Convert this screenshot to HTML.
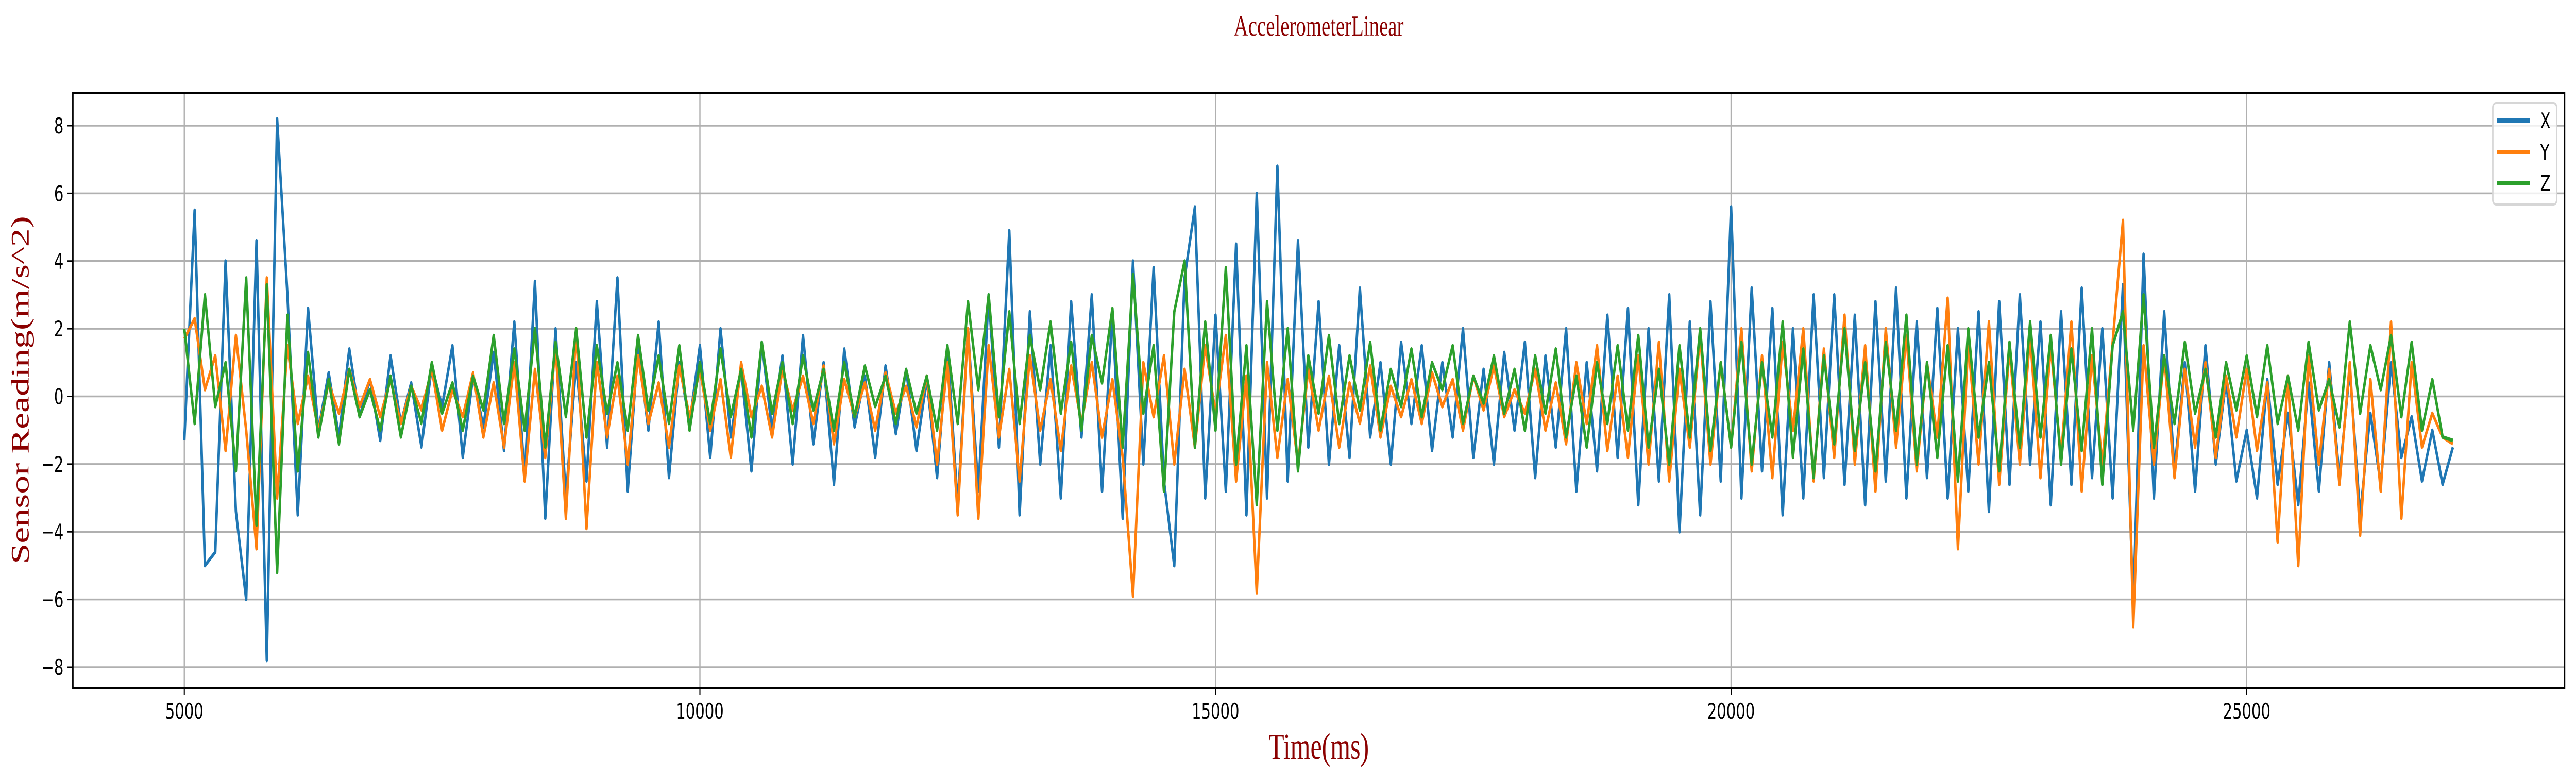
<!DOCTYPE html>
<html><head><meta charset="utf-8"><style>
html,body{margin:0;padding:0;background:#fff;width:100%;height:100%;overflow:hidden;}
svg{display:block;width:100vw;height:100vh;}
</style></head><body>
<svg id="chart" viewBox="0 0 7212 1516" preserveAspectRatio="none" xmlns="http://www.w3.org/2000/svg">
<text x="3692" y="69" text-anchor="middle" font-family="Liberation Serif, serif" font-size="56" fill="#8b0000">AccelerometerLinear</text>
<g id="grid"></g>
<g id="series"></g>
<rect x="204" y="180" width="6976" height="1155" fill="none" stroke="#000" stroke-width="4"/>
<g id="ticks"></g>
<text x="3692" y="1473" text-anchor="middle" font-family="Liberation Serif, serif" font-size="72" fill="#8b0000">Time(ms)</text>
<text transform="translate(80,757) rotate(-90)" text-anchor="middle" font-family="Liberation Serif, serif" font-size="72" fill="#8b0000">Sensor Reading(m/s^2)</text>
<g>
<rect x="6979" y="200" width="179" height="197" rx="9" fill="#fff" fill-opacity="0.8" stroke="#d6d6d6" stroke-width="4"/>
<line x1="6991" y1="234" x2="7083" y2="234" stroke="#1f77b4" stroke-width="8"/>
<text x="7112" y="249" font-family="DejaVu Sans, Liberation Sans, sans-serif" font-size="42">X</text>
<line x1="6991" y1="295" x2="7083" y2="295" stroke="#ff7f0e" stroke-width="8"/>
<text x="7112" y="310" font-family="DejaVu Sans, Liberation Sans, sans-serif" font-size="42">Y</text>
<line x1="6991" y1="355" x2="7083" y2="355" stroke="#2ca02c" stroke-width="8"/>
<text x="7112" y="370" font-family="DejaVu Sans, Liberation Sans, sans-serif" font-size="42">Z</text>
</g>
</svg>
<script>
const xTicks = [5000, 10000, 15000, 20000, 25000];
const yTicks = [-8, -6, -4, -2, 0, 2, 4, 6, 8];
const tStart = 5000;
const tStep = 100;
const seriesX = [-1.3,5.5,-5,-4.6,4,-3.4,-6,4.6,-7.8,8.2,
3.0,-3.5,2.6,-1.0,0.7,-1.2,1.4,-0.6,0.5,-1.3,
1.2,-0.8,0.4,-1.5,0.9,-0.3,1.5,-1.8,0.6,-0.9,
1.3,-1.6,2.2,-2.4,3.4,-3.6,2.0,-3.0,1.0,-2.5,
2.8,-1.5,3.5,-2.8,1.5,-1.0,2.2,-2.4,1.0,-0.8,
1.5,-1.8,2.0,-1.2,0.8,-2.2,1.6,-1.0,1.2,-2.0,
1.8,-1.4,1.0,-2.6,1.4,-0.9,0.6,-1.8,0.9,-1.1,
0.8,-1.6,0.5,-2.4,1.5,-3.2,2.0,-2.8,3.0,-1.5,
4.9,-3.5,2.5,-2.0,1.5,-3.0,2.8,-1.2,3.0,-2.8,
2.5,-3.6,4.0,-2.0,3.8,-2.5,-5.0,3.5,5.6,-3.0,
2.4,-2.8,4.5,-3.5,6.0,-3.0,6.8,-2.5,4.6,-1.5,
2.8,-2.0,1.5,-1.8,3.2,-1.2,1.0,-2.0,1.6,-0.8,
1.5,-1.6,1.0,-1.2,2.0,-1.8,0.8,-2.0,1.3,-1.0,
1.6,-2.4,1.2,-1.5,2.0,-2.8,1.0,-2.2,2.4,-1.8,
2.6,-3.2,2.0,-2.5,3.0,-4.0,2.2,-3.5,2.8,-2.5,
5.6,-3.0,3.2,-2.2,2.6,-3.5,2.0,-3.0,3.0,-2.4,
3.0,-2.6,2.4,-3.2,2.8,-2.5,3.2,-3.0,2.2,-2.4,
2.6,-3.0,2.0,-2.8,2.5,-3.4,2.8,-2.6,3.0,-2.0,
2.2,-3.2,2.5,-2.6,3.2,-2.4,2.0,-3.0,3.3,-6.3,
4.2,-3.0,2.5,-2.2,1.0,-2.8,1.5,-2.0,0.5,-2.5,
-1.0,-3.0,0.5,-2.6,-0.5,-3.2,0.4,-2.8,1.0,-2.4,
0.8,-3.5,-0.5,-2.6,1.0,-1.8,-0.6,-2.5,-1.0,-2.6,
-1.5];
const seriesY = [1.7,2.3,0.2,1.2,-1.6,1.8,-1.0,-4.5,3.5,-3.0,
1.5,-0.8,0.6,-1.0,0.4,-0.5,0.8,-0.3,0.5,-0.6,
0.5,-0.8,0.3,-0.4,0.8,-1.0,0.2,-0.6,0.7,-1.2,
0.4,-1.5,1.0,-2.5,0.8,-1.8,1.5,-3.6,2.0,-3.9,
1.0,-1.2,0.6,-2.0,1.2,-0.8,0.4,-1.5,0.9,-0.6,
0.8,-1.0,0.5,-1.8,1.0,-0.6,0.3,-1.2,0.8,-0.4,
0.6,-0.8,0.9,-1.4,0.5,-0.6,0.4,-1.0,0.7,-0.5,
0.3,-0.9,0.6,-2.0,1.0,-3.5,2.0,-3.6,1.5,-1.2,
0.8,-2.5,1.2,-1.0,0.5,-1.6,0.9,-0.8,1.0,-1.2,
0.5,-1.8,-5.9,1.0,-0.6,1.2,-2.0,0.8,-1.5,1.5,
-0.5,1.8,-2.5,0.6,-5.8,1.0,-1.8,0.5,-2.0,0.8,
-1.0,0.6,-1.5,0.4,-0.8,0.9,-1.2,0.3,-0.6,0.5,
-0.8,0.7,-0.3,0.5,-1.0,0.6,-0.4,0.9,-0.6,0.2,
-0.5,0.8,-1.0,0.4,-1.4,1.0,-0.8,1.5,-1.6,0.6,
-1.8,1.2,-2.0,1.6,-2.5,0.8,-1.5,1.8,-2.0,1.0,
-1.5,2.0,-2.2,1.2,-2.4,1.6,-1.0,2.0,-2.5,1.4,
-1.8,2.4,-2.0,1.5,-2.8,2.0,-1.5,1.8,-2.2,1.0,
-1.2,2.9,-4.5,1.6,-2.0,2.2,-2.6,1.4,-2.0,1.8,
-2.4,1.5,-1.8,2.2,-2.8,1.2,-2.0,1.6,5.2,-6.8,
1.5,-2.0,1.2,-2.4,0.8,-1.5,1.0,-1.8,0.6,-1.2,
0.8,-1.6,0.4,-4.3,0.6,-5.0,1.2,-2.0,0.8,-2.6,
1.0,-4.1,0.5,-2.8,2.2,-3.6,1.0,-1.5,-0.5,-1.2,
-1.4];
const seriesZ = [2.0,-0.8,3.0,-0.3,1.0,-2.2,3.5,-3.8,3.3,-5.2,
2.4,-2.2,1.3,-1.2,0.5,-1.4,0.8,-0.6,0.2,-1.0,
0.6,-1.2,0.3,-0.8,1.0,-0.5,0.4,-1.0,0.6,-0.4,
1.8,-0.8,1.4,-1.0,2.0,-1.5,1.6,-0.6,2.0,-1.2,
1.5,-0.5,1.0,-1.0,1.8,-0.4,1.2,-0.8,1.5,-1.0,
1.0,-0.8,1.4,-0.6,0.8,-1.2,1.6,-0.5,1.0,-0.8,
1.2,-0.4,0.8,-1.0,1.0,-0.6,0.9,-0.3,0.6,-0.8,
0.8,-0.5,0.6,-1.0,1.5,-0.8,2.8,0.2,3.0,-0.6,
2.5,-0.8,1.8,0.2,2.2,-0.5,1.6,-1.0,1.8,0.4,
2.6,-1.5,3.6,-0.5,1.5,-2.8,2.5,4.0,-1.5,2.2,
-1.0,3.8,-2.0,1.5,-3.2,2.8,-1.0,2.0,-2.2,1.2,
-0.5,1.8,-0.8,1.2,-0.4,1.6,-1.0,0.8,-0.3,1.4,
-0.6,1.0,0.2,1.5,-0.8,0.6,-0.2,1.2,-0.5,0.8,
-1.0,1.2,-0.5,1.4,-1.2,0.6,-1.5,1.0,-0.8,1.5,
-1.0,1.8,-1.5,0.8,-2.0,1.5,-1.2,2.0,-1.6,1.0,
-1.5,1.6,-2.0,1.0,-1.2,2.2,-1.8,1.4,-2.4,1.2,
-1.4,2.0,-1.6,1.0,-2.2,1.6,-1.0,2.4,-2.0,1.0,
-1.8,1.5,-2.5,2.0,-1.2,1.0,-2.2,1.6,-1.5,2.2,
-1.2,1.8,-2.0,1.4,-1.6,2.0,-2.6,1.5,2.5,-1.0,
3.0,-1.5,1.2,-0.8,1.6,-0.5,0.8,-1.2,1.0,-0.4,
1.2,-0.6,1.5,-0.8,0.6,-1.0,1.6,-0.4,0.5,-0.9,
2.2,-0.5,1.5,0.2,1.8,-0.6,1.6,-1.0,0.5,-1.2,
-1.3];

const NS = 'http://www.w3.org/2000/svg';
const plotL = 204, plotR = 7180, plotT = 180, plotB = 1335;
function xScale(t){ return 516 + (t - 5000) * (6290 - 516) / 20000; }
function yScale(v){ return 769.5 - v * (1295 - 244) / 16; }

const grid = document.getElementById('grid');
const ticks = document.getElementById('ticks');
xTicks.forEach(function(t){
  const x = xScale(t);
  const g = document.createElementNS(NS,'line');
  
  
  g.setAttribute('x1',x); g.setAttribute('x2',x); g.setAttribute('y1',plotT); g.setAttribute('y2',plotB);
  g.setAttribute('stroke','#b0b0b0'); g.setAttribute('stroke-width','3.5');
  grid.appendChild(g);
  const tk = document.createElementNS(NS,'line');
  
  
  tk.setAttribute('x1',x); tk.setAttribute('x2',x); tk.setAttribute('y1',plotB); tk.setAttribute('y2',plotB+15);
  tk.setAttribute('stroke','#000'); tk.setAttribute('stroke-width','3');
  ticks.appendChild(tk);
  const lb = document.createElementNS(NS,'text');
  
  
  lb.setAttribute('x',x); lb.setAttribute('y',1395);
  lb.setAttribute('text-anchor','middle');
  lb.setAttribute('font-family','DejaVu Sans, Liberation Sans, sans-serif');
  lb.setAttribute('font-size','42');
  lb.textContent = String(t);
  ticks.appendChild(lb);
});
yTicks.forEach(function(v){
  const y = yScale(v);
  const g = document.createElementNS(NS,'line');
  
  
  g.setAttribute('x1',plotL); g.setAttribute('x2',plotR); g.setAttribute('y1',y); g.setAttribute('y2',y);
  g.setAttribute('stroke','#b0b0b0'); g.setAttribute('stroke-width','3.5');
  grid.appendChild(g);
  const tk = document.createElementNS(NS,'line');
  
  
  tk.setAttribute('x1',plotL-15); tk.setAttribute('x2',plotL); tk.setAttribute('y1',y); tk.setAttribute('y2',y);
  tk.setAttribute('stroke','#000'); tk.setAttribute('stroke-width','3');
  ticks.appendChild(tk);
  const lb = document.createElementNS(NS,'text');
  
  
  lb.setAttribute('x',plotL-26); lb.setAttribute('y',y+15);
  lb.setAttribute('text-anchor','end');
  lb.setAttribute('font-family','DejaVu Sans, Liberation Sans, sans-serif');
  lb.setAttribute('font-size','42');
  lb.textContent = v < 0 ? '\u2212' + Math.abs(v) : String(v);
  ticks.appendChild(lb);
});

const seriesGroup = document.getElementById('series');
function drawSeries(vals, color, name){
  const pts = vals.map(function(v,i){ return xScale(tStart + i*tStep).toFixed(1) + ',' + yScale(v).toFixed(1); }).join(' ');
  const pl = document.createElementNS(NS,'polyline');
  
  
  pl.setAttribute('points', pts);
  pl.setAttribute('fill','none');
  pl.setAttribute('stroke', color);
  pl.setAttribute('stroke-width','7');
  pl.setAttribute('stroke-linejoin','round');
  seriesGroup.appendChild(pl);
}
drawSeries(seriesX, '#1f77b4', 'series-x-line');
drawSeries(seriesY, '#ff7f0e', 'series-y-line');
drawSeries(seriesZ, '#2ca02c', 'series-z-line');
</script>
</body></html>
